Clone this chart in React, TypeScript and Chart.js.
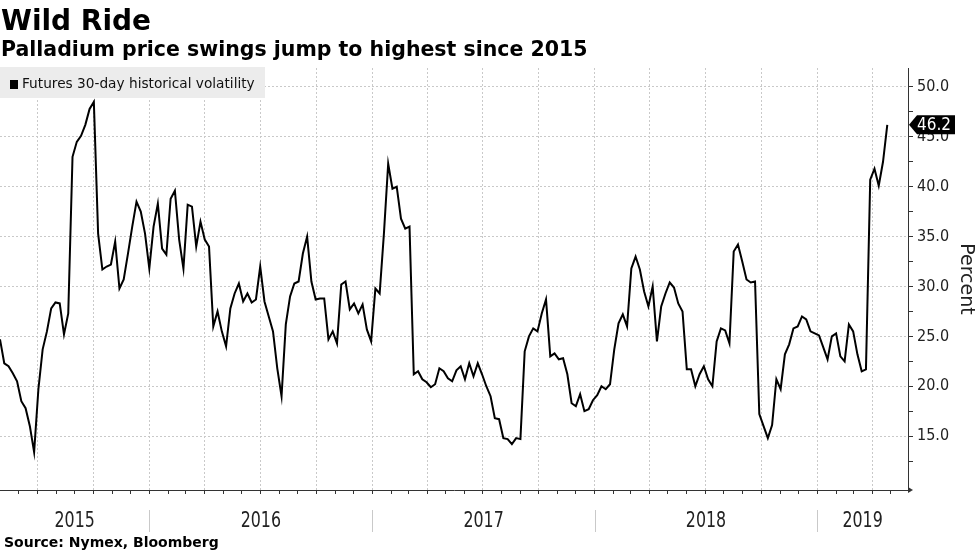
import React, { useEffect, useRef } from 'react';
import { Chart, registerables } from 'chart.js';

Chart.register(...registerables);

// ---------- text ----------
const TITLE = 'Wild Ride';
const SUBTITLE = 'Palladium price swings jump to highest since 2015';
const SOURCE = 'Source: Nymex, Bloomberg';
const SERIES_LABEL = 'Futures 30-day historical volatility';
const Y_TITLE = 'Percent';

// ---------- data (weekly readings, first one on SERIES_START) ----------
const SERIES_START = '2015-05-01';
const STEP_DAYS = 7;

const vol2015 = [
  24.7, 22.3, 22.0, 21.3, 20.5, 18.5, 17.8, 16.0, 13.4, 19.7,
  23.7, 25.5, 27.8, 28.4, 28.3, 25.2, 27.3, 43.0, 44.5, 45.1,
  46.2, 47.8, 48.5, 35.3, 31.7, 32.0, 32.2, 34.5, 29.8, 30.7,
  33.3, 36.0, 38.5, 37.5, 35.3,
];
const vol2016 = [
  31.8, 36.0, 38.3, 33.8, 33.2, 38.8, 39.6, 34.7, 31.8, 38.2,
  38.0, 34.0, 36.5, 34.7, 34.0, 26.0, 27.5, 25.5, 24.0, 27.8,
  29.3, 30.3, 28.5, 29.3, 28.4, 28.7, 32.0, 28.5, 27.0, 25.5,
  21.8, 19.0, 26.2, 29.0, 30.3, 30.5, 33.3, 35.0, 30.5, 28.7,
  28.8, 28.8, 24.7, 25.5, 24.3, 30.2, 30.5, 27.7, 28.3, 27.3,
  28.2, 25.7, 24.5,
];
const vol2017 = [
  29.8, 29.3, 35.3, 42.3, 39.8, 40.0, 36.8, 35.8, 36.0, 21.2,
  21.5, 20.7, 20.4, 19.9, 20.2, 21.8, 21.5, 20.8, 20.5, 21.6,
  22.0, 20.7, 22.3, 21.0, 22.3, 21.2, 20.0, 19.0, 16.8, 16.7,
  14.8, 14.7, 14.2, 14.8, 14.7, 23.5, 25.0, 25.8, 25.5, 27.3,
  28.7, 23.0, 23.3, 22.7, 22.8, 21.2, 18.3, 18.0, 19.2, 17.5,
  17.7, 18.6,
];
const vol2018 = [
  19.1, 20.0, 19.7, 20.2, 23.7, 26.3, 27.2, 26.0, 31.8, 33.0,
  31.7, 29.5, 28.0, 30.0, 24.5, 28.0, 29.3, 30.4, 29.9, 28.3,
  27.5, 21.7, 21.7, 20.0, 21.2, 22.0, 20.7, 20.0, 24.5, 25.8,
  25.6, 24.3, 33.5, 34.2, 32.5, 30.7, 30.4, 30.5, 17.2, 16.0,
  14.8, 16.1, 20.7, 19.7, 23.2, 24.2, 25.8, 26.0, 27.0, 26.7,
  25.5, 25.3,
];
const vol2019 = [
  25.1, 23.9, 22.7, 25.0, 25.3, 23.0, 22.5, 26.2, 25.5, 23.2,
  21.5, 21.7, 40.7, 41.8, 40.1, 42.5, 46.2,
];

// ---------- axes ----------
const yearLabels = ['2015', '2016', '2017', '2018', '2019'];
const VIEW_START = '2015-05-01';
const VIEW_END = '2019-05-30';
const Y_MIN = 9.6;
const Y_MAX = 51.9;
const yTickValues = [12.5, 15, 17.5, 20, 22.5, 25, 27.5, 30, 32.5, 35, 37.5, 40, 42.5, 45, 47.5, 50];
const yLabelledStep = 5;

// ---------- helpers ----------
const DAY_MS = 86400000;
const EPOCH = Date.UTC(2015, 0, 1);
const toDay = (iso: string) => (Date.parse(iso + 'T00:00:00Z') - EPOCH) / DAY_MS;
const monthOfDay = (d: number) => new Date(EPOCH + d * DAY_MS).getUTCMonth();

const GRID = '#c9c9c9';
const AXIS = '#333333';
const TICK_FONT = '"DejaVu Sans Condensed", "DejaVu Sans", sans-serif';

export default function App() {
  const canvasRef = useRef<HTMLCanvasElement | null>(null);

  useEffect(() => {
    const canvas = canvasRef.current;
    if (!canvas) return;

    const allValues = [...vol2015, ...vol2016, ...vol2017, ...vol2018, ...vol2019];
    const startDay = toDay(SERIES_START);
    const points = allValues.map((v, i) => ({ x: startDay + i * STEP_DAYS, y: v }));

    const xMin = toDay(VIEW_START);
    const xMax = toDay(VIEW_END);

    const monthTicks: number[] = [];
    for (let yr = 2015; yr <= 2019; yr++) {
      for (let m = 0; m < 12; m++) {
        const d = (Date.UTC(yr, m, 1) - EPOCH) / DAY_MS;
        if (d > xMin && d <= xMax) monthTicks.push(d);
      }
    }

    const decor = {
      id: 'decor',
      afterDraw(chart: any) {
        const ctx = chart.ctx as CanvasRenderingContext2D;
        const xs = chart.scales.x;
        const ys = chart.scales.y;
        const area = chart.chartArea;
        ctx.save();

        // Titles
        ctx.fillStyle = '#000';
        ctx.textAlign = 'left';
        ctx.textBaseline = 'alphabetic';
        ctx.font = 'bold 28px "DejaVu Sans", sans-serif';
        ctx.fillText(TITLE, 1, 30);
        ctx.font = 'bold 20.5px "DejaVu Sans", sans-serif';
        ctx.fillText(SUBTITLE, 1, 56);

        // Legend
        ctx.fillStyle = '#ececec';
        ctx.fillRect(0, 67, 265, 31);
        ctx.fillStyle = '#000';
        ctx.fillRect(10, 80, 8, 9);
        ctx.fillStyle = '#111';
        ctx.font = '13.7px "DejaVu Sans", sans-serif';
        ctx.textBaseline = 'middle';
        ctx.fillText(SERIES_LABEL, 22, 84.5);

        // Y title
        ctx.save();
        ctx.translate(966, (area.top + area.bottom) / 2);
        ctx.rotate(Math.PI / 2);
        ctx.textAlign = 'center';
        ctx.textBaseline = 'middle';
        ctx.fillStyle = '#222';
        ctx.font = '19px "DejaVu Sans", sans-serif';
        ctx.fillText(Y_TITLE, 0, 0);
        ctx.restore();

        // x axis end arrow
        ctx.fillStyle = AXIS;
        ctx.beginPath();
        ctx.moveTo(area.right, area.bottom - 3);
        ctx.lineTo(area.right + 5, area.bottom);
        ctx.lineTo(area.right, area.bottom + 3);
        ctx.closePath();
        ctx.fill();

        // Year separators and labels
        ctx.strokeStyle = GRID;
        ctx.lineWidth = 1;
        yearLabels.forEach((label, idx) => {
          const yr = Number(label);
          const s = toDay(`${yr}-01-01`);
          const e = toDay(`${yr + 1}-01-01`);
          if (idx > 0) {
            const px = Math.round(xs.getPixelForValue(s)) + 0.5;
            ctx.beginPath();
            ctx.moveTo(px, 510);
            ctx.lineTo(px, 532);
            ctx.stroke();
          }
          const a = xs.getPixelForValue(Math.max(s, xMin));
          const b = xs.getPixelForValue(Math.min(e, xMax));
          const cx = (a + b) / 2;
          ctx.save();
          ctx.translate(cx, 521.5);
          ctx.scale(0.72, 1);
          ctx.fillStyle = '#222';
          ctx.font = '22px "DejaVu Sans", sans-serif';
          ctx.textAlign = 'center';
          ctx.textBaseline = 'middle';
          ctx.fillText(label, 0, 0);
          ctx.restore();
        });

        // Source
        ctx.fillStyle = '#000';
        ctx.font = 'bold 14px "DejaVu Sans", sans-serif';
        ctx.textAlign = 'left';
        ctx.textBaseline = 'alphabetic';
        ctx.fillText(SOURCE, 4, 547);

        // Last value tag
        const last = allValues[allValues.length - 1];
        const py = ys.getPixelForValue(last);
        const tip = area.right + 1;
        ctx.fillStyle = '#000';
        ctx.beginPath();
        ctx.moveTo(tip, py);
        ctx.lineTo(tip + 8, py - 9.5);
        ctx.lineTo(955, py - 9.5);
        ctx.lineTo(955, py + 9.5);
        ctx.lineTo(tip + 8, py + 9.5);
        ctx.closePath();
        ctx.fill();
        ctx.fillStyle = '#fff';
        ctx.font = `17px ${TICK_FONT}`;
        ctx.textAlign = 'center';
        ctx.textBaseline = 'middle';
        ctx.fillText(last.toFixed(1), 934, py + 0.5);

        ctx.restore();
      },
    };

    const chart = new Chart(canvas, {
      type: 'line',
      data: {
        datasets: [
          {
            label: SERIES_LABEL,
            data: points,
            borderColor: '#000',
            borderWidth: 2,
            pointRadius: 0,
            tension: 0,
            fill: false,
          },
        ],
      },
      options: {
        animation: false,
        responsive: false,
        layout: { padding: { top: 68, left: 0, right: 0, bottom: 0 } },
        plugins: { legend: { display: false }, tooltip: { enabled: false } },
        scales: {
          x: {
            type: 'linear',
            min: xMin,
            max: xMax,
            afterBuildTicks: (scale: any) => {
              scale.ticks = monthTicks.map((v) => ({ value: v }));
            },
            afterFit: (scale: any) => {
              scale.height = 61;
            },
            ticks: { display: false, autoSkip: false },
            grid: {
              color: (c: any) =>
                c.tick && monthOfDay(c.tick.value) % 3 === 0 ? GRID : 'rgba(0,0,0,0)',
              tickColor: AXIS,
              tickLength: 4,
              lineWidth: 1,
            },
            border: { display: true, color: AXIS, width: 1, dash: [2, 2] },
          },
          y: {
            position: 'right',
            min: Y_MIN,
            max: Y_MAX,
            afterBuildTicks: (scale: any) => {
              scale.ticks = yTickValues.map((v) => ({ value: v }));
            },
            afterFit: (scale: any) => {
              scale.width = 72;
            },
            ticks: {
              autoSkip: false,
              padding: 4,
              color: '#222',
              font: { family: TICK_FONT, size: 16 },
              callback: (v: any) => (Number(v) % yLabelledStep === 0 ? Number(v).toFixed(1) : ''),
            },
            grid: {
              color: (c: any) =>
                c.tick && c.tick.value % yLabelledStep === 0 ? GRID : 'rgba(0,0,0,0)',
              tickColor: AXIS,
              tickLength: 5,
              lineWidth: 1,
            },
            border: { display: true, color: AXIS, width: 1, dash: [2, 2] },
          },
        },
      },
      plugins: [decor],
    });

    return () => chart.destroy();
  }, []);

  return (
    <div
      style={{
        position: 'fixed',
        left: 0,
        top: 0,
        width: 980,
        height: 551,
        background: '#fff',
        overflow: 'hidden',
      }}
    >
      <canvas ref={canvasRef} width={980} height={551} style={{ display: 'block' }} />
    </div>
  );
}
